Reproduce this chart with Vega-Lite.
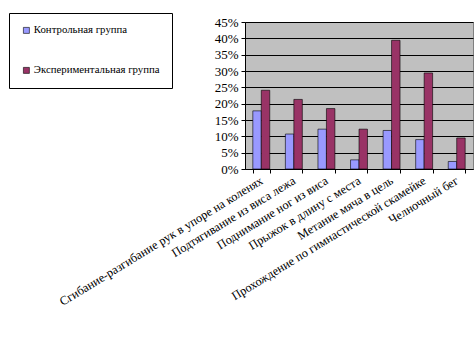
{
  "$schema": "https://vega.github.io/schema/vega-lite/v6.json",
  "autosize": "none",
  "width": 228,
  "height": 147,
  "padding": {"left": 245, "top": 22, "right": 1, "bottom": 186},
  "background": "white",
  "config": {
    "font": "Liberation Serif",
    "axis": {"labelFont": "Liberation Serif"},
    "legend": {"labelFont": "Liberation Serif"},
    "view": {"fill": "#c0c0c0", "stroke": "#808080", "strokeWidth": 1}
  },
  "data": {
    "values": [
      {"test": "Сгибание-разгибание рук в упоре на коленях", "group": "Контрольная группа", "value": 0.178},
      {"test": "Сгибание-разгибание рук в упоре на коленях", "group": "Экспериментальная группа", "value": 0.241},
      {"test": "Подтягивание из виса лежа", "group": "Контрольная группа", "value": 0.107},
      {"test": "Подтягивание из виса лежа", "group": "Экспериментальная группа", "value": 0.213},
      {"test": "Поднимание ног из виса", "group": "Контрольная группа", "value": 0.122},
      {"test": "Поднимание ног из виса", "group": "Экспериментальная группа", "value": 0.185},
      {"test": "Прыжок в длину с места", "group": "Контрольная группа", "value": 0.028},
      {"test": "Прыжок в длину с места", "group": "Экспериментальная группа", "value": 0.122},
      {"test": "Метание мяча в цель", "group": "Контрольная группа", "value": 0.118},
      {"test": "Метание мяча в цель", "group": "Экспериментальная группа", "value": 0.394},
      {"test": "Прохождение по гимнастической скамейке", "group": "Контрольная группа", "value": 0.09},
      {"test": "Прохождение по гимнастической скамейке", "group": "Экспериментальная группа", "value": 0.294},
      {"test": "Челночный бег", "group": "Контрольная группа", "value": 0.023},
      {"test": "Челночный бег", "group": "Экспериментальная группа", "value": 0.095}
    ]
  },
  "mark": {"type": "bar", "stroke": "black", "strokeWidth": 0.6},
  "encoding": {
    "x": {
      "field": "test",
      "type": "nominal",
      "sort": null,
      "title": null,
      "scale": {"paddingInner": 0.48, "paddingOuter": 0.24},
      "axis": {
        "labelAngle": -31.5,
        "labelAlign": "right",
        "labelBaseline": "middle",
        "labelFont": "Liberation Serif",
        "labelFontSize": 12.3,
        "labelColor": "black",
        "labelPadding": 6,
        "labelLimit": 400,
        "labelOverlap": false,
        "domainColor": "black",
        "tickColor": "black",
        "tickBand": "extent",
        "tickSize": 4
      }
    },
    "xOffset": {"field": "group", "type": "nominal", "sort": null},
    "y": {
      "field": "value",
      "type": "quantitative",
      "title": null,
      "scale": {"domain": [0, 0.45], "nice": false},
      "axis": {
        "format": ".0%",
        "values": [0, 0.05, 0.1, 0.15, 0.2, 0.25, 0.3, 0.35, 0.4, 0.45],
        "labelFont": "Liberation Serif",
        "labelFontSize": 13,
        "labelColor": "black",
        "labelPadding": 3,
        "gridColor": "black",
        "gridOpacity": 1,
        "gridWidth": 1,
        "domainColor": "black",
        "tickColor": "black",
        "tickSize": 4
      }
    },
    "color": {
      "field": "group",
      "type": "nominal",
      "sort": null,
      "scale": {"range": ["#9999ff", "#993366"]},
      "legend": {
        "title": null,
        "orient": "none",
        "legendX": -236,
        "legendY": -9,
        "direction": "vertical",
        "symbolType": "square",
        "symbolSize": 36,
        "symbolStrokeColor": "black",
        "symbolStrokeWidth": 0.6,
        "labelFont": "Liberation Serif",
        "labelFontSize": 10.8,
        "labelColor": "black",
        "labelOffset": 2,
        "rowPadding": 28,
        "padding": 12,
        "strokeColor": "black",
        "fillColor": "white",
        "cornerRadius": 0
      }
    }
  }
}
